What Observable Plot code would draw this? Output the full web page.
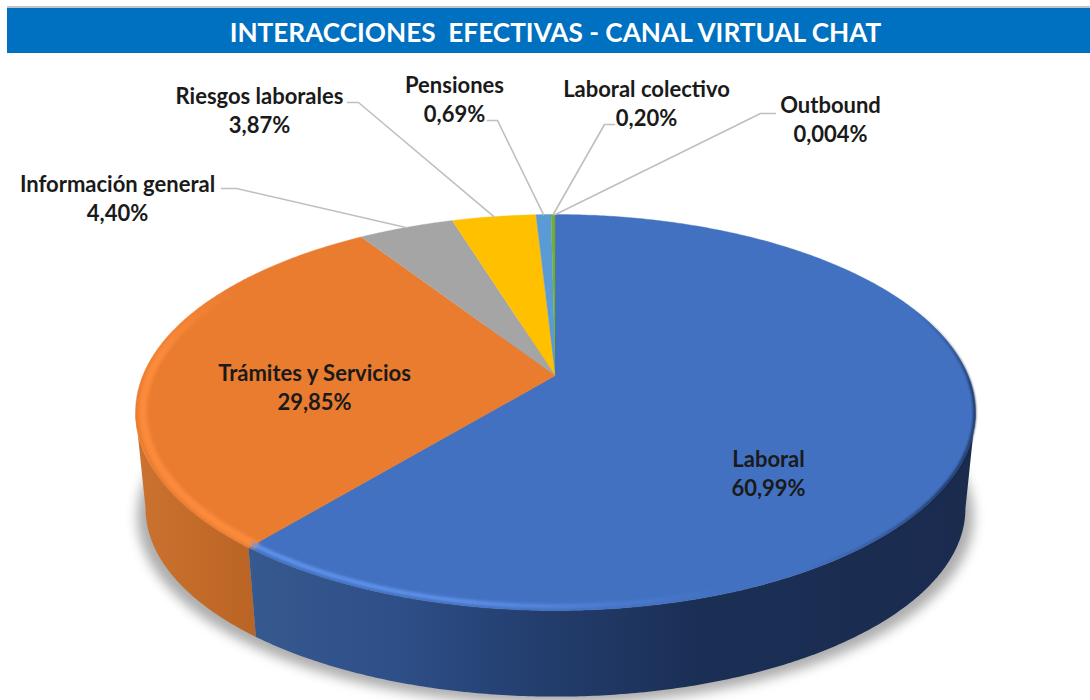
<!DOCTYPE html>
<html>
<head>
<meta charset="utf-8">
<script src="https://cdn.jsdelivr.net/npm/d3@7"></script>
<script src="https://cdn.jsdelivr.net/npm/@observablehq/plot@0.6"></script>
<style>
  html,body{margin:0;padding:0;background:#fff;overflow:hidden}
  #title{box-sizing:border-box;margin:6px 0 0 7px;width:1083px;height:47px;background:#0070c0;border-top:2px solid #c4c4c4;
    color:#fff;font:700 26.2px Lato,sans-serif;text-align:center;line-height:49px;white-space:pre;padding-left:14px}
  svg{display:block}
</style>
</head>
<body>
<div id="title">INTERACCIONES  EFECTIVAS - CANAL VIRTUAL CHAT</div>
<div id="chart"></div>
<script>
const categories = ["Laboral","Trámites y Servicios","Información general","Riesgos laborales","Pensiones","Laboral colectivo","Outbound"];
const values = [60.99,29.85,4.40,3.87,0.69,0.20,0.004];
const valueLabels = ["60,99%","29,85%","4,40%","3,87%","0,69%","0,20%","0,004%"];
const sliceColors = ["#4271c1","#ea7c30","#a5a5a5","#ffc000","#5b9bd5","#70ad47","#264478"];

// Label layout in page pixels (centre of the label block); leader knee points
const labelX = [768,314,117,259,454,646,830];
const labelY = [472,386,197,109,98,102,118];
const leaderStart = [null,null,[221,188],[347,102],[487,120],[614,124],[775,113]];
const leaderKnee  = [null,null,[236,188],[358,102],[497,120],[604,124],[760,113]];

// Tilted-disc projection
const cx=555, K=412.6, A=121, B=375, C=-0.1869;
const botCy=508, topCy=412, botSx=0.976, botSy=0.95;
const rightExtreme=100.8, leftExtreme=259.2;
const project=(deg,r=1)=>{const t=deg*Math.PI/180,u=r*Math.sin(t),v=-r*Math.cos(t),d=1+C*v;return [cx+K*u/d,(A*v+B)/d];};
const lower=([x,y])=>[cx+(x-cx)*botSx,botCy+(y-topCy)*botSy];
const arc=(a0,a1,r=1)=>{const n=Math.max(2,Math.ceil(Math.abs(a1-a0))*2),o=[];for(let i=0;i<=n;i++)o.push(project(a0+(a1-a0)*i/n,r));return o;};

const total=d3.sum(values);
let acc=0;
const slices=categories.map((name,i)=>{const a0=acc/total*360;acc+=values[i];return {name,i,a0,a1:acc/total*360,color:sliceColors[i]};});
const poly=(pts,s)=>pts.map(([x,y])=>({x,y,name:s.name,color:s.color}));

const topFaces=slices.flatMap(s=>poly([project(0,0),...arc(s.a0,s.a1)],s));
const wall=(s,a0,a1)=>{const t=arc(a0,a1);return poly([...t,...t.map(lower).reverse()],s);};
const shadowPts=arc(0,360).map(lower).map(([x,y])=>({x:cx+(x-cx)*1.02,y:y+8}));
const blur=(id)=>({render(index,scales,values,dim,ctx,next){const g=next(index,scales,values,dim,ctx);g.setAttribute("filter",`url(#${id})`);return g;}});

const seam=slices[0].a1;
const rimOrange=arc(seam,300,0.983).map(([x,y])=>({x,y}));
const rimBlue=arc(seam,160,0.985).map(([x,y])=>({x,y}));
const rimDark=arc(68,150,0.998).map(([x,y])=>({x,y}));

const leaders=slices.flatMap((s,i)=>leaderStart[i]?[leaderStart[i],leaderKnee[i],project((s.a0+s.a1)/2)].map(([x,y])=>({x,y,name:s.name})):[]);
const labels=slices.map((s,i)=>({x:labelX[i],y:labelY[i],text:s.name+"\n"+valueLabels[i]}));

function defs(){
  const d=d3.create("svg:defs");
  const grad=(id,stops,vertical)=>{const g=d.append("linearGradient").attr("id",id).attr("x1",0).attr("x2",vertical?0:1).attr("y1",0).attr("y2",vertical?1:0);
    stops.forEach(([o,c,a])=>g.append("stop").attr("offset",o).attr("stop-color",c).attr("stop-opacity",a??1));};
  grad("wallBlue",[[0,"#36598f"],[0.2,"#2e4f88"],[0.42,"#223c6b"],[0.62,"#1b2f55"],[1,"#1a2b4e"]]);
  grad("wallOrange",[[0,"#cb7230"],[0.5,"#c36b29"],[1,"#b96425"]]);
  grad("rimBlue",[[0,"#6296f0"],[0.45,"#5f92ec"],[0.8,"#4a7ad0"],[1,"#4271c1"]]);
  grad("rimDark",[[0,"#1a2b4e",0],[0.3,"#1a2b4e",0.9],[0.7,"#1a2b4e",0.9],[1,"#1a2b4e",0]],true);
  grad("rimOrange",[[0,"#fb8a3a",0],[0.25,"#fb8a3a",1],[1,"#fb8a3a",1]],true);
  const f=(id,s)=>d.append("filter").attr("id",id).attr("x","-10%").attr("y","-10%").attr("width","120%").attr("height","120%").append("feGaussianBlur").attr("stdDeviation",s);
  f("soft",6); f("rim",1.8); f("rimS",1.2);
  return d.node();
}

const plot=Plot.plot({
  width:1090,height:647,margin:0,
  x:{domain:[0,1090],range:[0,1090],axis:null},
  y:{domain:[53,700],range:[0,647],axis:null},
  marks:[
    defs,
    Plot.line(shadowPts,{x:"x",y:"y",fill:"#000",fillOpacity:0.32,stroke:"none",...blur("soft")}),
    Plot.line(wall(slices[1],seam,leftExtreme),{x:"x",y:"y",fill:"url(#wallOrange)",stroke:"none"}),
    Plot.line(wall(slices[0],rightExtreme,seam),{x:"x",y:"y",fill:"url(#wallBlue)",stroke:"none"}),
    Plot.line(topFaces,{x:"x",y:"y",z:"name",fill:"color",stroke:"color",strokeWidth:0.4}),
    Plot.line(rimOrange,{x:"x",y:"y",stroke:"url(#rimOrange)",strokeWidth:8,fill:"none",...blur("rim")}),
    Plot.line(rimBlue,{x:"x",y:"y",stroke:"url(#rimBlue)",strokeWidth:4,fill:"none",...blur("rim")}),
    Plot.line(rimDark,{x:"x",y:"y",stroke:"url(#rimDark)",strokeWidth:2.5,fill:"none",...blur("rimS")}),
    Plot.line(leaders,{x:"x",y:"y",z:"name",stroke:"#bfbfbf",strokeWidth:1.6,curve:"linear"}),
    Plot.text(labels,{x:"x",y:"y",text:"text",fontFamily:"Lato, sans-serif",fontWeight:700,fontSize:22,lineHeight:1.3,fill:"#1a1a1a",textAnchor:"middle"})
  ]
});
document.getElementById("chart").append(plot);
</script>
</body>
</html>
